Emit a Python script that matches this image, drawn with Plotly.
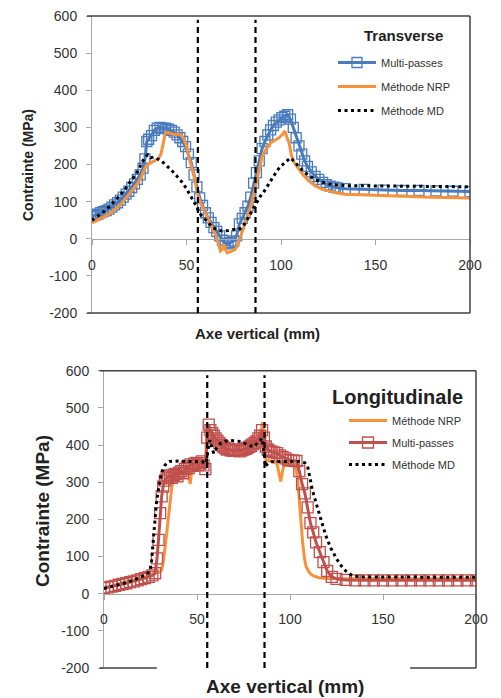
import plotly.graph_objects as go

W, H = 501, 698

# ---------------- data: Transverse ----------------
trans_mp_x = [0, 1.5, 3, 4.5, 6, 7.5, 9, 10.5, 12, 13.5, 15, 16.5, 18, 19.5, 21, 22.5, 24, 25.5, 27, 28,
              29, 30, 31.5, 33, 34.5, 36, 37.5, 39, 40.5, 42, 43.5, 45, 46.5, 48, 49.5, 51, 52.5, 54, 55.5, 57,
              58.5, 60, 61.5, 63, 64.5, 66, 67.5, 69, 70.5, 72, 73.5, 75, 76.5, 78, 79.5, 81, 82.5, 84, 85.5, 87,
              88.5, 90, 91.5, 93, 94.5, 96, 97.5, 99, 100.5, 102, 103.5, 105, 106.5, 108, 109.5, 111, 112.5, 114,
              116, 118, 120, 122, 124, 126, 128, 130, 134, 144, 154, 164, 173, 182, 191, 200]
trans_mp_y = [60, 63, 66, 70, 73, 76, 80, 85, 91, 97, 104, 112, 120, 128, 138, 148, 160, 172, 190, 215,
              262, 268, 278, 292, 298, 300, 297, 298, 295, 292, 287, 280, 272, 262, 248, 228, 205, 172, 140, 110,
              90, 70, 56, 44, 30, 20, 8, -4, -12, -14, -10, -6, 8, 40, 55, 70, 88, 112, 150, 178,
              210, 243, 262, 280, 293, 305, 314, 320, 326, 330, 334, 322, 300, 272, 250, 228, 210, 195,
              180, 168, 160, 152, 146, 142, 139, 137, 135, 133, 131, 130, 130, 129, 128, 127]

trans_nrp_x = [0, 3, 6, 9, 12, 15, 18, 21, 24, 26, 27.7, 29.5, 31, 33, 35, 36.5, 37.8, 38.8, 40, 42, 43.5,
               45, 47, 48.5, 50, 52, 54, 56, 57.5, 59, 62, 64, 65.5, 67, 68, 69, 69.8, 70.7, 71.6, 73, 74.2,
               75.5, 76.9, 78.7, 80, 81.3, 84, 86.6, 88.4, 90, 92, 94.7, 97, 99, 101, 102, 103, 104.3, 105.5,
               107, 109.6, 112, 114.9, 118, 122, 126, 130, 134, 145, 160, 180, 200]
trans_nrp_y = [43, 50, 58, 66, 78, 92, 110, 130, 148, 165, 187, 200, 204, 208, 215, 228, 262, 285, 286, 282, 281,
               282, 280, 270, 250, 205, 168, 118, 95, 80, 45, 25, 10, -15, -33, -28, -15, -30, -38, -35, -33,
               -30, -20, 7, 25, 43, 88, 142, 187, 221, 240, 259, 266, 272, 282, 290, 275, 258, 225,
               205, 187, 170, 155, 143, 133, 127, 123, 120, 118, 115, 112, 110]

trans_md_x = [0, 3, 6, 9, 12, 15, 18, 21, 24, 26, 28, 29.5, 31, 32.5, 34, 36, 38, 40, 42.6, 45, 47.9, 50,
              52, 53, 55, 56.6, 58, 60, 62, 63.5, 66, 68.8, 72, 75, 77.5, 79.5, 81, 83, 85, 87.5, 89, 91, 93,
              95.4, 98, 100, 102.5, 105, 107, 109, 111, 113, 115, 118, 122, 127, 135, 150, 175, 200]
trans_md_y = [50, 60, 72, 86, 102, 118, 137, 158, 180, 200, 220, 226, 218, 220, 217, 212, 204, 195, 182, 168, 151, 135,
              118, 110, 90, 72, 62, 52, 40, 32, 24, 21, 22, 25, 25, 30, 42, 61, 80, 101, 114, 127, 143,
              160, 184, 196, 208, 218, 208, 196, 186, 177, 170, 159, 152, 146, 143, 142, 141, 140]

# ---------------- data: Longitudinale ----------------
long_nrp_x = [0, 5, 10, 15, 20, 25, 28, 30, 31.1, 32, 32.9, 33.8, 34.7, 35.6, 36.5, 37.2, 38.5, 40, 42, 44,
              45.5, 46.3, 47.3, 49, 51, 53, 54.6, 55.2, 56, 57, 58, 60, 62, 65, 68, 71, 74, 77, 80, 82, 84,
              85.3, 86, 87, 89, 91, 93, 94.2, 95, 96, 97, 99, 101, 103, 104, 105, 106, 106.8, 107.8, 108.6,
              110, 111.3, 113, 115.8, 120, 130, 150, 175, 200]
long_nrp_y = [15, 22, 28, 35, 42, 50, 56, 58, 65, 90, 127, 170, 217, 258, 288, 306, 318, 322, 325, 330,
              322, 295, 333, 338, 340, 340, 345, 440, 452, 432, 420, 405, 398, 390, 386, 384, 387, 390, 396, 402, 420,
              462, 405, 362, 357, 355, 350, 325, 302, 330, 351, 351, 351, 347, 310, 253, 180, 137, 95, 74,
              60, 52, 47, 43, 41, 40, 40, 40, 40]

long_mp_x = [0, 2, 4, 6, 8, 10, 12, 14, 16, 18, 20, 22, 24, 26, 27.5, 28.5, 29.3, 30.2, 31, 31.8,
             32.7, 33.6, 34.5, 35.5, 36.5, 37.5, 38.5, 39.5, 40.5, 41.5, 42.5, 43.5, 44.6, 45.6, 46.6, 47.6,
             48.6, 49.6, 50.6, 51.6, 52.6, 53.5, 54.5, 55.5, 56.3, 57.2, 58.1, 59, 60, 61, 62, 63, 64, 65,
             66, 67, 68, 69, 70, 71, 72, 73, 74, 75, 76, 77, 78, 79, 80, 81, 82, 83, 84, 85, 86, 87, 88, 89,
             90, 91.5, 93, 94.5, 96, 97.5, 99, 100.5, 102, 103.5, 105, 106.5, 108, 109.5, 111, 112.5, 114,
             116, 118, 120, 122.5, 125, 130, 135, 140, 145, 150, 155, 160, 165, 170, 175, 180, 185, 190, 195, 200]
long_mp_y = [15, 17, 19, 21, 24, 26, 28, 31, 33, 36, 39, 42, 45, 49, 55, 95, 145, 217, 262, 288,
             304, 310, 315, 318, 312, 320, 322, 316, 326, 330, 324, 336, 342, 338, 348, 344,
             350, 352, 346, 351, 356, 345, 335, 420, 455, 440, 432, 425, 418, 412, 406, 400, 396, 392,
             388, 390, 386, 385, 384, 386, 388, 383, 386, 388, 390, 392, 395, 398, 402, 406, 410, 418, 425, 440, 420, 396, 388, 384,
             382, 380, 378, 372, 368, 364, 360, 358, 358, 357, 330, 295, 270, 232, 190, 165, 138,
             112, 85, 61, 45, 40, 37, 36, 36, 36, 36, 36, 36, 36, 36, 36, 36, 36, 36, 36, 36]

long_md_x = [0, 5, 10, 15, 20, 23, 24.8, 25.6, 26.4, 27.5, 28.2, 29.3, 30.2, 31.1, 32.7, 33.8, 35.4, 40, 45,
             50, 53, 54.5, 55.4, 56.2, 57, 58, 59, 60.5, 62.5, 65, 68, 71, 74, 77, 80.5, 83.3, 85, 85.8, 86.8,
             88, 90, 95, 100, 105, 108, 109.5, 111, 112, 114, 115.8, 117.5, 119.4, 122, 124.8, 127, 130, 133.8,
             140, 160, 180, 200]
long_md_y = [14, 20, 27, 35, 45, 52, 62, 90, 137, 205, 245, 282, 310, 328, 345, 351, 356, 357, 356,
             356, 355, 350, 365, 398, 413, 392, 378, 392, 404, 410, 412, 411, 409, 401, 395, 409, 418, 390, 342,
             350, 355, 356, 356, 356, 352, 342, 305, 280, 245, 217, 185, 154, 122, 96, 78, 61, 47,
             45, 45, 44, 44]

zone_limits_top = [56, 86.5]
zone_limits_bottom = [55.5, 86.3]
x_ticks = [0, 50, 100, 150, 200]
x_tick_labels = ["0", "50", "100", "150", "200"]
y_ticks = [-200, -100, 0, 100, 200, 300, 400, 500, 600]
y_tick_labels = ["-200", "-100", "0", "100", "200", "300", "400", "500", "600"]

BLUE = "#4a7bbd"
ORANGE = "#f7923a"
RED = "#c0504d"
FONT = "Liberation Sans, Arial, sans-serif"

fig = go.Figure()

# top traces
fig.add_trace(go.Scatter(x=trans_mp_x, y=trans_mp_y, name="Multi-passes", mode="lines+markers",
                         line=dict(color=BLUE, width=3),
                         marker=dict(symbol="square-open", size=10, color=BLUE, line=dict(width=1.3, color=BLUE)),
                         xaxis="x", yaxis="y", legend="legend", legendgroup="t1"))
fig.add_trace(go.Scatter(x=trans_nrp_x, y=trans_nrp_y, name="Méthode NRP", mode="lines",
                         line=dict(color=ORANGE, width=3),
                         xaxis="x", yaxis="y", legend="legend", legendgroup="t2"))
fig.add_trace(go.Scatter(x=trans_md_x, y=trans_md_y, name="Méthode MD", mode="lines",
                         line=dict(color="black", width=3, dash="3px,3.5px"),
                         xaxis="x", yaxis="y", legend="legend", legendgroup="t3"))

# bottom traces
fig.add_trace(go.Scatter(x=long_nrp_x, y=long_nrp_y, name="Méthode NRP", mode="lines",
                         line=dict(color=ORANGE, width=3),
                         xaxis="x2", yaxis="y2", legend="legend2", legendgroup="b1"))
fig.add_trace(go.Scatter(x=long_mp_x, y=long_mp_y, name="Multi-passes", mode="lines+markers",
                         line=dict(color=RED, width=3),
                         marker=dict(symbol="square-open", size=11, color=RED, line=dict(width=1.3, color=RED)),
                         xaxis="x2", yaxis="y2", legend="legend2", legendgroup="b2"))
fig.add_trace(go.Scatter(x=long_md_x, y=long_md_y, name="Méthode MD", mode="lines",
                         line=dict(color="black", width=3, dash="3px,3.5px"),
                         xaxis="x2", yaxis="y2", legend="legend2", legendgroup="b3"))

# geometry (paper fractions)
top_xd = [92 / W, 470 / W]
top_yd = [1 - 313 / H, 1 - 16 / H]
bot_xd = [104 / W, 476 / W]
bot_yd = [1 - 668 / H, 1 - 370.7 / H]
YMIN, YMAX = -200, 600


def zero_pos(yd):
    return yd[0] + (0 - YMIN) / (YMAX - YMIN) * (yd[1] - yd[0])


GRAY = "#a8a8a8"
TXT = "#333333"


def xaxis_cfg(dom, yd):
    return dict(domain=dom, range=[0, 200], anchor="free", position=zero_pos(yd), automargin=False,
                showline=True, linecolor=GRAY, linewidth=1, ticks="outside", ticklen=5, tickcolor=GRAY,
                tickvals=x_ticks, ticktext=x_tick_labels,
                tickfont=dict(size=14, color=TXT, family=FONT), ticklabelstandoff=8,
                showgrid=False, zeroline=False, fixedrange=True)


def yaxis_cfg(dom, anchor_x):
    return dict(domain=dom, range=[YMIN, YMAX], anchor=anchor_x, automargin=False,
                showline=True, linecolor=GRAY, linewidth=1,
                ticks="outside", ticklen=5, tickcolor=GRAY, tickvals=y_ticks, ticktext=y_tick_labels,
                tickfont=dict(size=14, color=TXT, family=FONT), ticklabelstandoff=6,
                showgrid=False, zeroline=False, fixedrange=True)


shapes = []
FR = dict(color="#404040", width=1.5)
for xr, yr, segs in [("x domain", "y domain", [(-0.013, 1, 1, 1), (1, 1, 0, 1), (-0.013, 1, 0, 0)]),
                     ("x2 domain", "y2 domain", [(-0.012, 1, 1, 1), (1, 1, 0, 1), (-0.012, 0.142, 0, 0),
                                                 (0.823, 1, 0, 0)])]:
    for x0, x1, y0, y1 in segs:
        shapes.append(dict(type="line", xref=xr, yref=yr, x0=x0, x1=x1, y0=y0, y1=y1, line=FR))
for xv in zone_limits_top:
    shapes.append(dict(type="line", xref="x", yref="y", x0=xv, x1=xv, y0=-200, y1=590,
                       line=dict(color="black", width=2.2, dash="6px,4px")))
for xv in zone_limits_bottom:
    shapes.append(dict(type="line", xref="x2", yref="y2", x0=xv, x1=xv, y0=-200, y1=588,
                       line=dict(color="black", width=2.2, dash="6px,4px")))

ann = [
    dict(text="<b>Contrainte (MPa)</b>", x=28 / W, y=1 - 165 / H, xref="paper", yref="paper", textangle=-90,
         showarrow=False, font=dict(size=14, color="#222", family=FONT), xanchor="center", yanchor="middle"),
    dict(text="<b>Axe vertical (mm)</b>", x=257 / W, y=1 - 334 / H, xref="paper", yref="paper",
         showarrow=False, font=dict(size=15, color="#222", family=FONT), xanchor="center", yanchor="middle"),
    dict(text="<b>Transverse</b>", x=403.5 / W, y=1 - 35 / H, xref="paper", yref="paper",
         showarrow=False, font=dict(size=15, color="#222", family=FONT), xanchor="center", yanchor="middle"),
    dict(text="<b>Contrainte (MPa)</b>", x=42 / W, y=1 - 511 / H, xref="paper", yref="paper", textangle=-90,
         showarrow=False, font=dict(size=19, color="#222", family=FONT), xanchor="center", yanchor="middle"),
    dict(text="<b>Axe vertical (mm)</b>", x=285 / W, y=1 - 686 / H, xref="paper", yref="paper",
         showarrow=False, font=dict(size=19, color="#222", family=FONT), xanchor="center", yanchor="middle"),
    dict(text="<b>Longitudinale</b>", x=397 / W, y=1 - 397 / H, xref="paper", yref="paper",
         showarrow=False, font=dict(size=20, color="#222", family=FONT), xanchor="center", yanchor="middle"),
]

LEG_FONT = dict(size=11, color=TXT, family=FONT)
fig.update_layout(
    width=W, height=H, margin=dict(l=0, r=0, t=0, b=0, pad=0), autosize=False,
    paper_bgcolor="white", plot_bgcolor="white",
    xaxis=xaxis_cfg(top_xd, top_yd),
    yaxis=yaxis_cfg(top_yd, "x"),
    xaxis2=xaxis_cfg(bot_xd, bot_yd),
    yaxis2=yaxis_cfg(bot_yd, "x2"),
    shapes=shapes, annotations=ann,
    showlegend=True,
    legend=dict(x=333 / W, y=1 - 48 / H, xanchor="left", yanchor="top", bgcolor="rgba(0,0,0,0)",
                font=LEG_FONT, traceorder="grouped", tracegroupgap=5, itemwidth=38),
    legend2=dict(x=344 / W, y=1 - 406 / H, xanchor="left", yanchor="top", bgcolor="rgba(0,0,0,0)",
                 font=LEG_FONT, traceorder="grouped", tracegroupgap=3, itemwidth=38),
)

fig.write_html("out.html", config={"displayModeBar": False},
               post_script="document.documentElement.style.margin='0';document.body.style.margin='0';"
                           "document.body.style.padding='0';document.documentElement.style.overflow='hidden';"
                           "document.body.style.overflow='hidden';")
